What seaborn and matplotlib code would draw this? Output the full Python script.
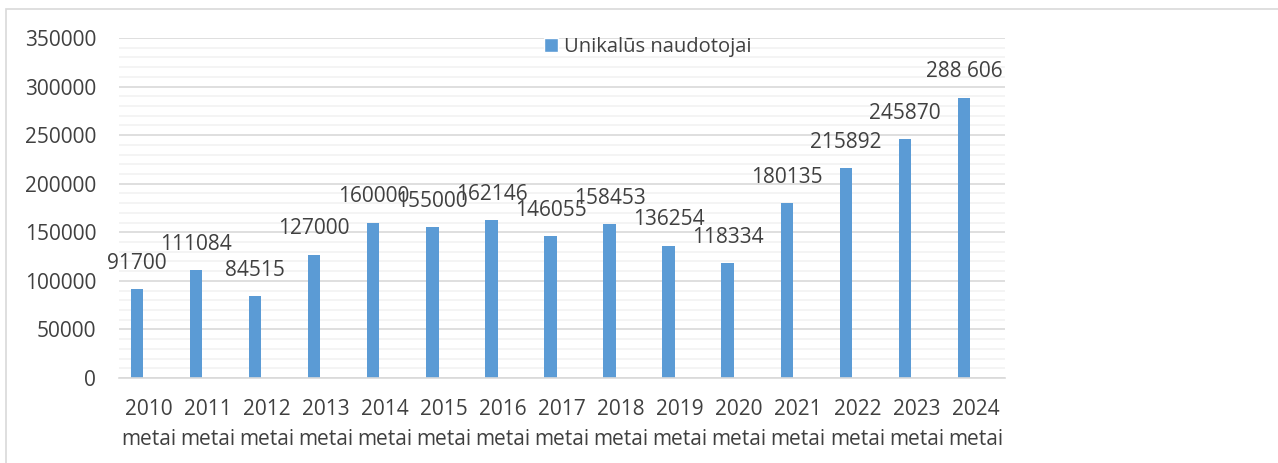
import matplotlib
matplotlib.use("Agg")
import matplotlib.pyplot as plt
import seaborn as sns
import pandas as pd
from matplotlib.patches import Rectangle, Patch
from matplotlib.ticker import MultipleLocator

years = ["2010", "2011", "2012", "2013", "2014", "2015", "2016", "2017",
         "2018", "2019", "2020", "2021", "2022", "2023", "2024"]
values = [91700, 111084, 84515, 127000, 160000, 155000, 162146, 146055,
          158453, 136254, 118334, 180135, 215892, 245870, 288606]
value_labels = ["91700", "111084", "84515", "127000", "160000", "155000", "162146",
                "146055", "158453", "136254", "118334", "180135", "215892",
                "245870", "288 606"]
tick_labels = [f"{y}\nmetai" for y in years]
series_name = "Unikalūs naudotojai"

sns.set_theme(style="white")
plt.rcParams["font.family"] = ["Open Sans", "DejaVu Sans"]

BAR = "#5B9BD5"
TXT = "#404040"

fig = plt.figure(figsize=(12.78, 4.63), dpi=100)
ax = fig.add_axes([119 / 1278, 1 - 378 / 463, (1005 - 119) / 1278, (378 - 38) / 463])

df = pd.DataFrame({"year": years, "value": values})
sns.barplot(data=df, x="year", y="value", color=BAR, width=0.21, ax=ax,
            saturation=1, errorbar=None)

shift = -0.195
for p, lab in zip(ax.patches, value_labels):
    p.set_x(p.get_x() + shift)
    p.set_edgecolor("none")
    cx = p.get_x() + p.get_width() / 2
    ax.annotate(lab, (cx, p.get_height()), xytext=(0, 11), textcoords="offset points",
                ha="center", va="bottom", fontsize=15, color=TXT)

ax.set_xlim(-0.5, 14.5)
ax.set_ylim(0, 350000)
ax.yaxis.set_major_locator(MultipleLocator(50000))
ax.yaxis.set_minor_locator(MultipleLocator(10000))
ax.grid(axis="y", which="major", color="#D9D9D9", linewidth=1.2)
ax.grid(axis="y", which="minor", color="#F2F2F2", linewidth=1.2)
ax.set_axisbelow(True)
ax.set_xticks(range(len(years)))
ax.set_xticklabels(tick_labels, fontsize=15, color=TXT, linespacing=1.55)
ax.tick_params(axis="y", labelsize=15, labelcolor=TXT, length=0, pad=16.5)
ax.tick_params(axis="x", length=0, pad=15)
ax.set_xlabel("")
ax.set_ylabel("")
for s in ["top", "right", "left"]:
    ax.spines[s].set_visible(False)
ax.spines["bottom"].set_color("#D9D9D9")
ax.spines["bottom"].set_linewidth(1.2)

fig.legend(handles=[Patch(facecolor=BAR, label=series_name)], loc="center",
           bbox_to_anchor=(648 / 1278, 1 - 47 / 463), frameon=False, fontsize=14.5,
           handlelength=0.7, handleheight=0.7, handletextpad=0.3, labelcolor=TXT)

fig.patches.append(Rectangle((6 / 1278, -0.1), 1.5, 1 - 9 / 463 + 0.1, fill=False,
                             edgecolor="#D9D9D9", linewidth=1.2,
                             transform=fig.transFigure, figure=fig))

fig.savefig("out.png", dpi=100)
